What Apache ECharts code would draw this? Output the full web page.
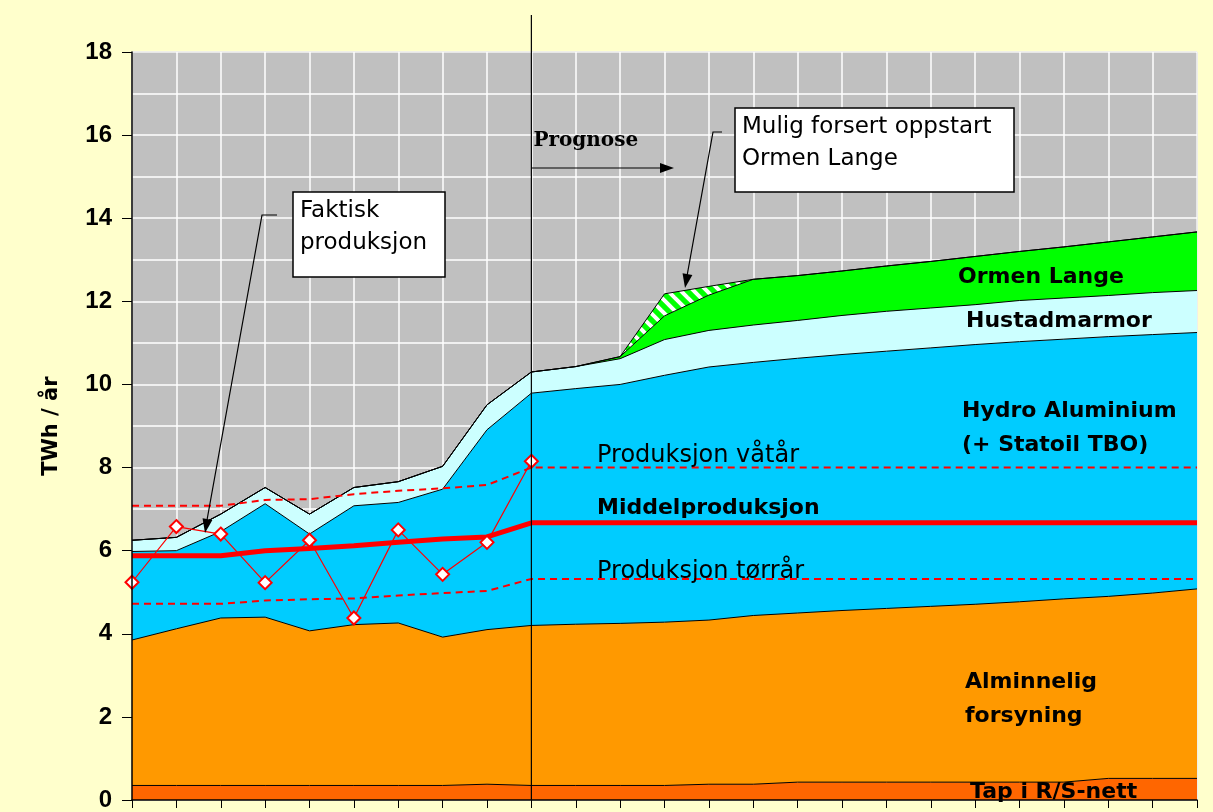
<!DOCTYPE html>
<html>
<head>
<meta charset="utf-8">
<script src="https://cdn.jsdelivr.net/npm/echarts@6.0.0/dist/echarts.min.js"></script>
<style>
  html, body { margin: 0; padding: 0; background: #FFFFCC; }
  #chart { width: 1213px; height: 812px; }
</style>
</head>
<body>
<div id="chart"></div>
<script>
// år (kategorier) - etikettene ligger under bildekanten
var years = ['1996', '1997', '1998', '1999', '2000', '2001', '2002', '2003', '2004', '2005',
  '2006', '2007', '2008', '2009', '2010', '2011', '2012', '2013', '2014', '2015',
  '2016', '2017', '2018', '2019', '2020']
var prognoseStart = 9

// stablede områder, TWh / år
var tapNett = [0.35, 0.35, 0.35, 0.35, 0.35, 0.35, 0.35, 0.35, 0.38, 0.35, 0.35, 0.35, 0.35, 0.38, 0.38, 0.43, 0.43, 0.43, 0.43, 0.43, 0.43, 0.43, 0.52, 0.52, 0.52]
var alminnelig = [3.50, 3.77, 4.03, 4.05, 3.72, 3.87, 3.91, 3.57, 3.72, 3.85, 3.88, 3.90, 3.93, 3.95, 4.06, 4.07, 4.13, 4.18, 4.23, 4.28, 4.34, 4.41, 4.38, 4.46, 4.56]
var hydro = [2.13, 1.88, 2.08, 2.73, 2.33, 2.86, 2.90, 3.56, 4.81, 5.59, 5.67, 5.75, 5.94, 6.09, 6.09, 6.13, 6.16, 6.19, 6.22, 6.25, 6.26, 6.25, 6.25, 6.22, 6.17]
var hustad = [0.27, 0.32, 0.42, 0.39, 0.48, 0.44, 0.50, 0.55, 0.60, 0.51, 0.53, 0.62, 0.86, 0.88, 0.90, 0.91, 0.94, 0.96, 0.96, 0.96, 0.99, 0.99, 0.99, 1.01, 1.01]
var ormenLange = [0, 0, 0, 0, 0, 0, 0, 0, 0, 0, 0, 0.05, 0.57, 0.85, 1.10, 1.08, 1.07, 1.09, 1.12, 1.16, 1.18, 1.23, 1.29, 1.34, 1.41]
var forsert = [0, 0, 0, 0, 0, 0, 0, 0, 0, 0, 0, 0, 0.53, 0.21, 0, 0, 0, 0, 0, 0, 0, 0, 0, 0, 0]

// produksjonslinjer
var middel = [5.88, 5.88, 5.88, 6.00, 6.05, 6.12, 6.20, 6.28, 6.33, 6.67, 6.67, 6.67, 6.67, 6.67, 6.67, 6.67, 6.67, 6.67, 6.67, 6.67, 6.67, 6.67, 6.67, 6.67, 6.67]
var vaatar = [7.08, 7.08, 7.08, 7.22, 7.24, 7.36, 7.44, 7.50, 7.58, 8.00, 8.00, 8.00, 8.00, 8.00, 8.00, 8.00, 8.00, 8.00, 8.00, 8.00, 8.00, 8.00, 8.00, 8.00, 8.00]
var torraar = [4.72, 4.72, 4.72, 4.80, 4.83, 4.85, 4.92, 4.98, 5.03, 5.32, 5.32, 5.32, 5.32, 5.32, 5.32, 5.32, 5.32, 5.32, 5.32, 5.32, 5.32, 5.32, 5.32, 5.32, 5.32]
var faktisk = [5.24, 6.58, 6.40, 5.23, 6.25, 4.38, 6.50, 5.43, 6.20, 8.15, null, null, null, null, null, null, null, null, null, null, null, null, null, null, null]

// skravert mønster (grønn med hvite striper)
function hatch () {
  var c = document.createElement('canvas')
  c.width = 13
  c.height = 13
  var g = c.getContext('2d')
  g.fillStyle = '#00FF00'
  g.fillRect(0, 0, 13, 13)
  g.strokeStyle = '#FFFFFF'
  g.lineWidth = 4
  for (var k = -13; k <= 13; k += 13) {
    g.beginPath()
    g.moveTo(k - 2, -2)
    g.lineTo(k + 15, 15)
    g.stroke()
  }
  return c
}

function area (name, data, color) {
  return {
    name: name,
    type: 'line',
    stack: 'total',
    data: data,
    symbol: 'none',
    lineStyle: { color: '#000', width: 1 },
    areaStyle: { color: color, opacity: 1 },
    z: 2
  }
}

var myChart = echarts.init(document.getElementById('chart'))
var option = {
  animation: false,
  backgroundColor: '#FFFFCC',
  grid: {
    left: 132, top: 52, right: 16, bottom: 8,
    show: true, backgroundColor: '#C0C0C0', borderColor: '#808080', borderWidth: 1
  },
  xAxis: [
    {
      // rutenett bak områdene
      type: 'category',
      data: years,
      boundaryGap: false,
      axisLine: { show: false },
      axisTick: { show: false },
      axisLabel: { show: false },
      splitLine: { show: true, interval: 0, lineStyle: { color: '#FFFFFF', width: 1.5 } }
    },
    {
      // aksen selv, over områdene
      type: 'category',
      position: 'bottom',
      data: years,
      boundaryGap: false,
      axisLine: { lineStyle: { color: '#000', width: 1.5 } },
      axisTick: { show: true, length: 8, interval: 0, lineStyle: { color: '#000' } },
      axisLabel: { show: false },
      splitLine: { show: false },
      z: 10
    }
  ],
  yAxis: [
    {
      type: 'value',
      min: 0,
      max: 18,
      interval: 2,
      axisLine: { show: false },
      axisTick: { show: false },
      axisLabel: { show: false },
      splitLine: { show: true, lineStyle: { color: '#FFFFFF', width: 1.5 } },
      minorTick: { show: false, splitNumber: 2 },
      minorSplitLine: { show: true, lineStyle: { color: '#FFFFFF', width: 1.5 } }
    },
    {
      type: 'value',
      position: 'left',
      min: 0,
      max: 18,
      interval: 2,
      name: 'TWh / år',
      nameLocation: 'middle',
      nameRotate: 90,
      nameGap: 70,
      nameTextStyle: { fontFamily: 'DejaVu Sans', fontWeight: 'bold', fontSize: 21, color: '#000' },
      axisLine: { show: true, lineStyle: { color: '#000', width: 1.5 } },
      axisTick: { show: true, length: 10, lineStyle: { color: '#000' } },
      axisLabel: { fontFamily: 'Liberation Sans', fontWeight: 'bold', fontSize: 24, color: '#000', margin: 20 },
      splitLine: { show: false },
      z: 10
    }
  ],
  series: [
    area('Tap i R/S-nett', tapNett, '#FF6600'),
    area('Alminnelig forsyning', alminnelig, '#FF9900'),
    area('Hydro Aluminium (+ Statoil TBO)', hydro, '#00CCFF'),
    area('Hustadmarmor', hustad, '#CCFFFF'),
    area('Ormen Lange', ormenLange, '#00FF00'),
    area('Mulig forsert oppstart Ormen Lange', forsert, { image: hatch(), repeat: 'repeat' }),
    {
      name: 'Produksjon tørrår', type: 'line', data: torraar, symbol: 'none', z: 3,
      lineStyle: { color: '#FF0000', width: 2, type: [7, 5] }
    },
    {
      name: 'Produksjon våtår', type: 'line', data: vaatar, symbol: 'none', z: 3,
      lineStyle: { color: '#FF0000', width: 2, type: [7, 5] }
    },
    {
      name: 'Middelproduksjon', type: 'line', data: middel, symbol: 'none', z: 3,
      lineStyle: { color: '#FF0000', width: 5 }
    },
    {
      name: 'Faktisk produksjon', type: 'line', data: faktisk, z: 4,
      symbol: 'diamond', symbolSize: 13,
      lineStyle: { color: '#FF0000', width: 1.2 },
      itemStyle: { color: '#FFFFFF', borderColor: '#FF0000', borderWidth: 2 }
    }
  ]
}
myChart.setOption(option)

// merknader, piler og tekster
function arrowHead (x1, y1, x2, y2) {
  var a = Math.atan2(y2 - y1, x2 - x1)
  var len = 14
  var w = 5
  var bx = x2 - len * Math.cos(a)
  var by = y2 - len * Math.sin(a)
  return {
    type: 'polygon', z: 20,
    shape: { points: [[x2, y2], [bx - w * Math.sin(a), by + w * Math.cos(a)], [bx + w * Math.sin(a), by - w * Math.cos(a)]] },
    style: { fill: '#000' }
  }
}
function label (text, x, y, font) {
  return {
    type: 'text', z: 20, x: x, y: y,
    style: { text: text, fill: '#000', font: font, align: 'left', verticalAlign: 'middle' }
  }
}
var bold = 'bold 22px "DejaVu Sans"'
var plain = '24px "DejaVu Sans"'
var px = myChart.convertToPixel({ xAxisIndex: 0 }, prognoseStart)
var yBottom = myChart.convertToPixel({ yAxisIndex: 0 }, 0)

var graphics = [
  { type: 'line', z: 15, shape: { x1: px, y1: 15, x2: px, y2: yBottom }, style: { stroke: '#000', lineWidth: 1.2 } },
  label('Prognose', px + 2, 141, 'bold 20px "DejaVu Serif"'),
  { type: 'line', z: 20, shape: { x1: px, y1: 168, x2: 662, y2: 168 }, style: { stroke: '#000', lineWidth: 1.2 } },
  arrowHead(px, 168, 674, 168),

  { type: 'rect', z: 20, shape: { x: 293, y: 192, width: 152, height: 85 }, style: { fill: '#FFFFFF', stroke: '#000', lineWidth: 1.5 } },
  label('Faktisk', 300, 211, '23px "DejaVu Sans"'),
  label('produksjon', 300, 243, '23px "DejaVu Sans"'),
  { type: 'polyline', z: 20, shape: { points: [[277, 215], [262, 215], [207, 520]] }, style: { stroke: '#000', lineWidth: 1.2, fill: null } },
  arrowHead(262, 215, 205, 533),

  { type: 'rect', z: 20, shape: { x: 735, y: 108, width: 279, height: 84 }, style: { fill: '#FFFFFF', stroke: '#000', lineWidth: 1.5 } },
  label('Mulig forsert oppstart', 742, 127, '23px "DejaVu Sans"'),
  label('Ormen Lange', 742, 159, '23px "DejaVu Sans"'),
  { type: 'polyline', z: 20, shape: { points: [[722, 132], [713, 132], [687, 276]] }, style: { stroke: '#000', lineWidth: 1.2, fill: null } },
  arrowHead(713, 132, 685, 288),

  label('Ormen Lange', 958, 277, bold),
  label('Hustadmarmor', 966, 321, bold),
  label('Hydro Aluminium', 962, 411, bold),
  label('(+ Statoil TBO)', 962, 445, bold),
  label('Produksjon våtår', 597, 456, plain),
  label('Middelproduksjon', 597, 508, bold),
  label('Produksjon tørrår', 597, 572, plain),
  label('Alminnelig', 965, 682, bold),
  label('forsyning', 965, 716, bold),
  label('Tap i R/S-nett', 970, 792, bold)
]
myChart.setOption({ graphic: graphics })
</script>
</body>
</html>
